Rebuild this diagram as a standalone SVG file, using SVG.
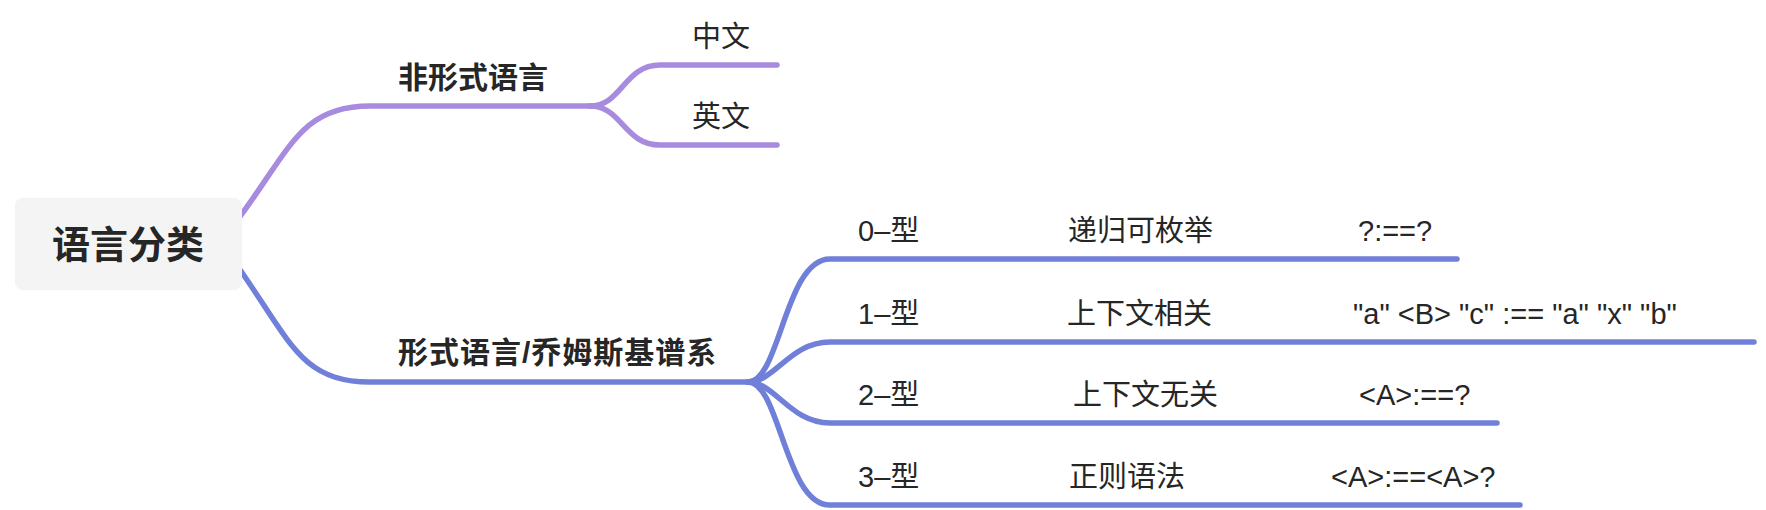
<svg xmlns="http://www.w3.org/2000/svg" width="1766" height="510" viewBox="0 0 1766 510">
<style>
.t{font-family:"Liberation Sans","Noto Sans CJK SC",sans-serif;fill:#262626;}
.l1{font-size:30px;font-weight:bold;}
.l2{font-size:29px;}
.root{font-size:38px;font-weight:bold;}
.p{fill:none;stroke:#a78bdf;stroke-width:5.5;stroke-linecap:round;}
.b{fill:none;stroke:#7080d8;stroke-width:5.5;stroke-linecap:round;}
</style>
<rect width="1766" height="510" fill="#ffffff"/>
<g id="connectors">
<path class="p" d="M 236 222 C 290 150 300 106 370 106 L 592 106"/>
<path class="p" d="M 590 106 C 622 106 624 65 660 65 L 777 65"/>
<path class="p" d="M 590 106 C 622 106 624 145 660 145 L 777 145"/>
<path class="b" d="M 236 264 C 290 340 300 382 370 382 L 750 382"/>
<path class="b" d="M 748 382 C 780 382 785 259 830 259 L 1457 259"/>
<path class="b" d="M 748 382 C 775 382 790 342 830 342 L 1754 342"/>
<path class="b" d="M 748 382 C 775 382 790 423 830 423 L 1497 423"/>
<path class="b" d="M 748 382 C 780 382 785 505 830 505 L 1520 505"/>
</g>
<g id="root">
<rect x="15" y="198" width="227" height="92" rx="8" fill="#f4f4f4"/>
<text class="t root" x="128" y="258" text-anchor="middle">语言分类</text>
</g>
<g id="informal">
<text class="t l1" x="398" y="88">非形式语言</text>
</g>
<g id="zh">
<text class="t l2" x="692" y="47">中文</text>
</g>
<g id="en">
<text class="t l2" x="692" y="127">英文</text>
</g>
<g id="formal">
<text class="t l1" x="398" y="363" letter-spacing="1">形式语言/乔姆斯基谱系</text>
</g>
<g id="type0">
<text class="t l2" x="858" y="241">0–型</text>
<text class="t l2" x="1068" y="241">递归可枚举</text>
<text class="t l2" x="1358" y="241">?:==?</text>
</g>
<g id="type1">
<text class="t l2" x="858" y="324">1–型</text>
<text class="t l2" x="1067" y="324">上下文相关</text>
<text class="t l2" x="1353" y="324">"a" &lt;B&gt; "c" :== "a" "x" "b"</text>
</g>
<g id="type2">
<text class="t l2" x="858" y="405">2–型</text>
<text class="t l2" x="1073" y="405">上下文无关</text>
<text class="t l2" x="1359" y="405">&lt;A&gt;:==?</text>
</g>
<g id="type3">
<text class="t l2" x="858" y="487">3–型</text>
<text class="t l2" x="1069" y="487">正则语法</text>
<text class="t l2" x="1331" y="487">&lt;A&gt;:==&lt;A&gt;?</text>
</g>
</svg>
